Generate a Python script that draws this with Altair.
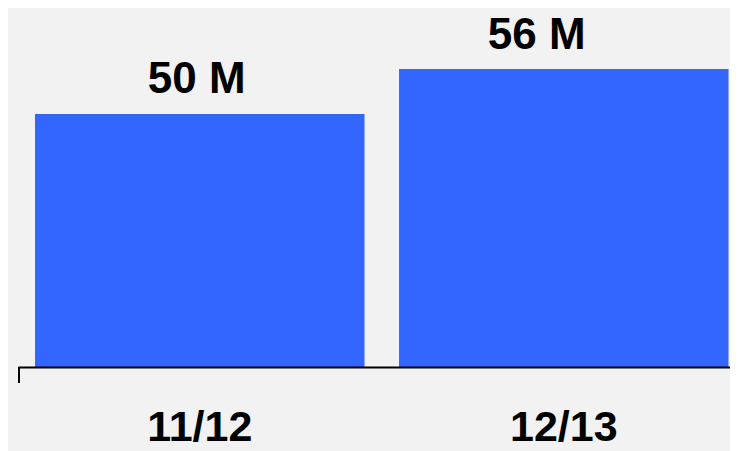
import altair as alt
import pandas as pd

seasons = ["11/12", "12/13"]
values = [50, 56]
labels = ["50 M", "56 M"]

df = pd.DataFrame({"season": seasons, "value": values, "label": labels})

W, H = 712, 359
YMIN, YMAX = 16.27, 64.13

x = alt.X("season:N", sort=seasons, title=None,
          scale=alt.Scale(paddingInner=0.0948, paddingOuter=0.0254, align=0.92),
          axis=alt.Axis(labelAngle=0, ticks=False, tickSize=0, labelPadding=73,
                        labelBaseline="alphabetic", labelFont="Liberation Sans",
                        labelFontSize=43, labelFontWeight="bold", labelColor="#000000",
                        domainColor="#000000", domainWidth=2, zindex=1))
y = alt.Y("value:Q", title=None, axis=None,
          scale=alt.Scale(domain=[YMIN, YMAX], zero=False, nice=False))

base = alt.Chart(df)

bars = base.mark_bar(color="#3366ff").encode(x=x, y=y, y2=alt.datum(YMIN))

def lbl(season, dx, dy):
    return base.transform_filter(alt.datum.season == season).mark_text(
        font="Liberation Sans", fontSize=44, fontWeight="bold", color="#000000",
        baseline="alphabetic", align="center", dx=dx, dy=dy
    ).encode(x=x, y=y, text="label:N")

tick = base.mark_rule(color="#000000", strokeWidth=2).encode(
    x=alt.value(1), y=alt.value(H), y2=alt.value(H + 16))

chart = alt.layer(bars, lbl("11/12", -3, -21), lbl("12/13", -27, -20), tick).properties(
    width=W, height=H,
    autosize=alt.AutoSizeParams(type="none"),
    padding={"left": 10, "top": 0, "right": 0, "bottom": 84},
    background="#f2f2f2",
).configure_view(stroke=None).configure_axis(domainWidth=2, domainColor="#000000")

chart.save("out.html", embed_options={"renderer": "svg", "actions": False})
